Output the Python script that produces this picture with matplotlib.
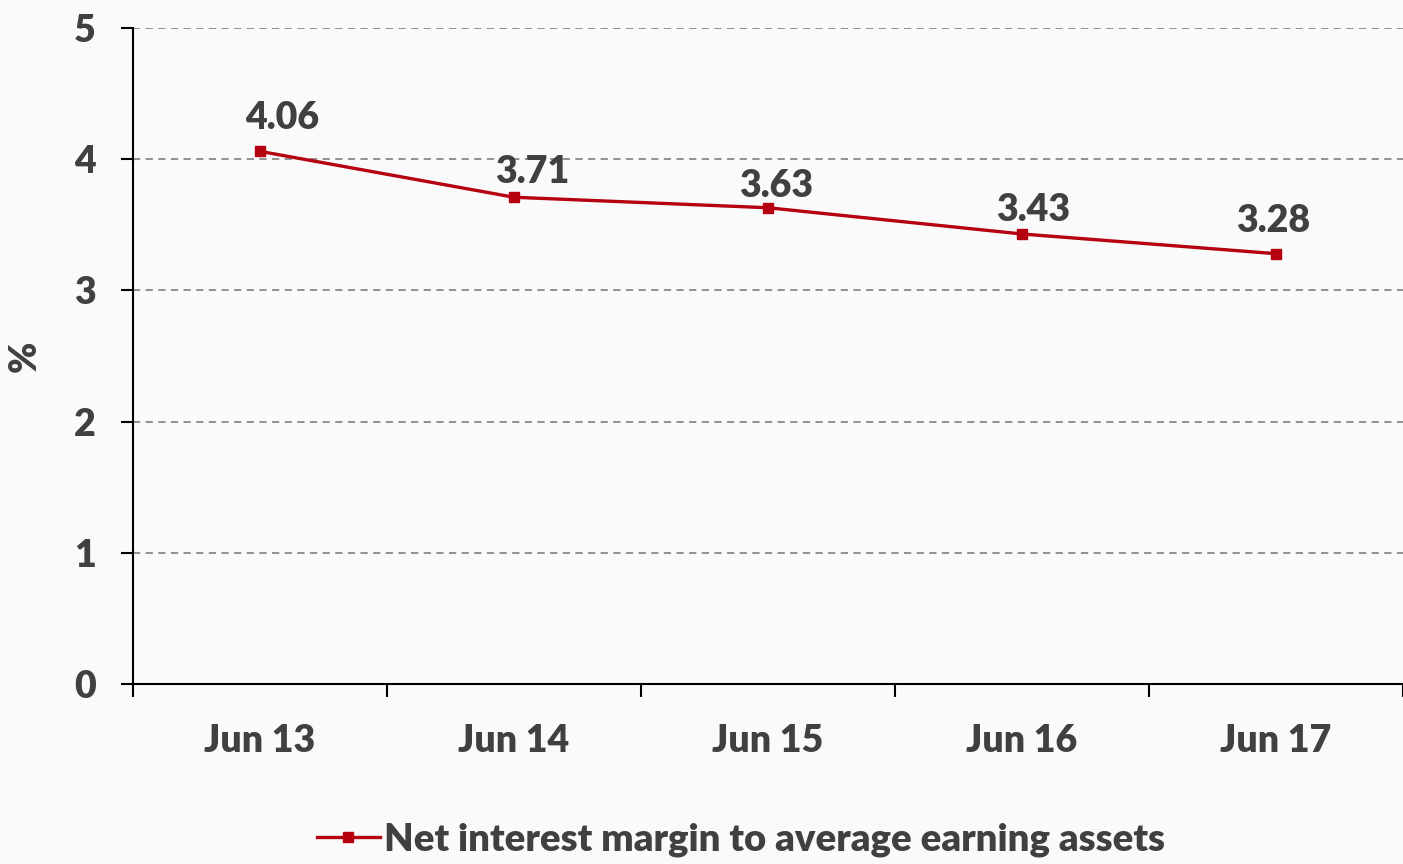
import matplotlib.pyplot as plt

categories = ['Jun 13', 'Jun 14', 'Jun 15', 'Jun 16', 'Jun 17']
nim = [4.06, 3.71, 3.63, 3.43, 3.28]
series_name = 'Net interest margin to average earning assets'

# label nudges in pixels (dx, gap above point)
label_dx = [22, 18, 8, 11, -3]
label_gap = [16, 8, 5, 7, 16]

txt = '#404040'
red = '#B5000F'
px = 72 / 100
wt = 'heavy'

plt.rcParams['font.family'] = ['Lato', 'DejaVu Sans']
plt.rcParams['font.weight'] = wt

fig = plt.figure(figsize=(14.03, 8.64), dpi=100, facecolor='#FAFAFB')
ax = fig.add_axes([0.0948, 0.2083, 0.9052, 0.7593])
ax.set_facecolor('#FAFAFB')

x = list(range(len(categories)))
line, = ax.plot(x, nim, color=red, lw=2.4, marker='s', ms=6.5, label=series_name)
for xi, v, dx, g in zip(x, nim, label_dx, label_gap):
    ax.annotate(f'{v:.2f}', (xi, v), xytext=(dx * px, g * px), textcoords='offset points',
                ha='center', va='bottom', fontsize=27, color=txt, fontweight=wt)

ax.set_xlim(-0.5, len(categories) - 0.5)
ax.set_ylim(0, 5)
ax.set_yticks(range(6))
ax.set_xticks(x)
ax.set_xticklabels(categories)
ax.set_xticks([i - 0.5 for i in range(len(categories) + 1)], minor=True)
ax.tick_params(axis='x', which='major', length=0, pad=29, labelsize=27, labelcolor=txt)
ax.tick_params(axis='x', which='minor', length=9, width=1.5, direction='out', color='black')
ax.tick_params(axis='y', length=9, width=1.5, pad=18, labelsize=27, labelcolor=txt)
ax.set_ylabel('%', fontsize=27, color=txt, fontweight=wt)
ax.yaxis.set_label_coords(-0.0717, 0.5)

ax.grid(axis='y', ls=(0, (4, 3)), color='#888888', lw=1.3)
ax.set_axisbelow(True)
for s in ['top', 'right']:
    ax.spines[s].set_visible(False)
for s in ['left', 'bottom']:
    ax.spines[s].set_linewidth(1.5)
    ax.spines[s].set_color('black')

leg = fig.legend(handles=[line], loc='center', bbox_to_anchor=(0.528, 0.028), frameon=False,
                 fontsize=27.5, handlelength=1.65, handletextpad=0.1, borderpad=0)
for t in leg.get_texts():
    t.set_color(txt)

fig.savefig('out.png', dpi=100, facecolor=fig.get_facecolor())
